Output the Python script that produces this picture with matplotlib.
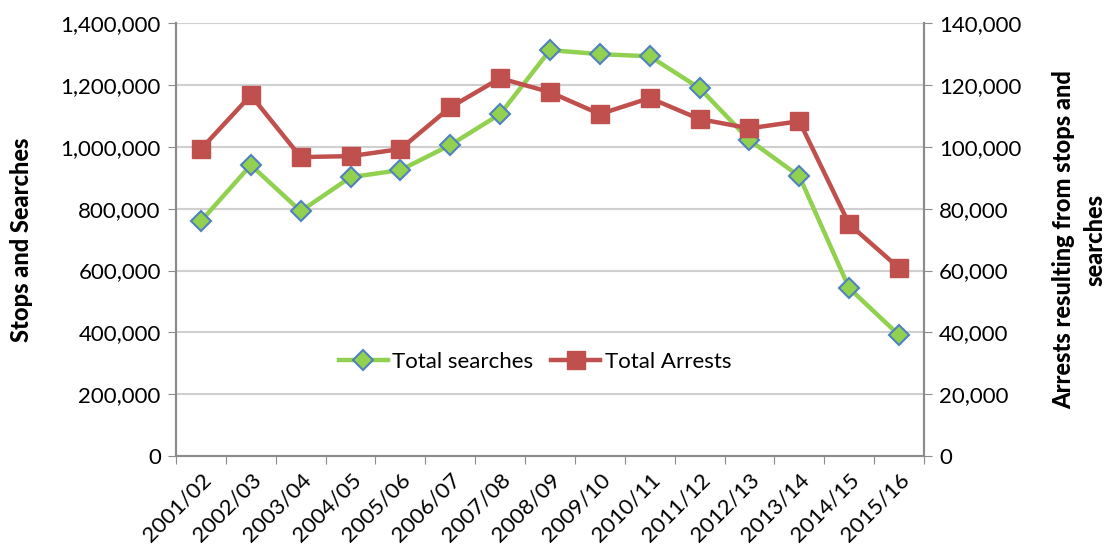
import numpy as np
import matplotlib
matplotlib.use("Agg")
import matplotlib.pyplot as plt
from matplotlib.ticker import FuncFormatter, FixedLocator

years = ["2001/02", "2002/03", "2003/04", "2004/05", "2005/06", "2006/07", "2007/08",
         "2008/09", "2009/10", "2010/11", "2011/12", "2012/13", "2013/14", "2014/15", "2015/16"]
searches = [760000, 941000, 792000, 902000, 925000, 1006000, 1106000,
            1313000, 1300000, 1293000, 1190000, 1022000, 905000, 543000, 391000]
arrests = [99300, 116700, 96700, 97000, 99300, 112800, 122200,
           117700, 110600, 115800, 109000, 106000, 108300, 75000, 60800]

plt.rcParams["font.family"] = ["Lato", "DejaVu Sans"]

GREEN = "#92D050"
BLUE = "#4F81BD"
RED = "#C0504D"
GRID = "#D0D0D0"
AXIS = "#8C8C8C"
FS = 16

fig = plt.figure(figsize=(11.1, 5.53), dpi=100)
ax = fig.add_axes([0.1586, 0.1754, 0.6738, 0.7826])
ax2 = ax.twinx()

x = np.arange(len(years))
l1, = ax.plot(x, searches, color=GREEN, lw=3.2, marker="D", ms=10,
              mfc=GREEN, mec=BLUE, mew=1.5, label="Total searches")
l2, = ax2.plot(x, arrests, color=RED, lw=3.2, marker="s", ms=12.5,
               mfc=RED, mec=RED, label="Total Arrests")

ax.set_xlim(-0.5, len(years) - 0.5)
ax.set_ylim(0, 1400000)
ax2.set_ylim(0, 140000)
ax.set_yticks(np.arange(0, 1400001, 200000))
ax2.set_yticks(np.arange(0, 140001, 20000))
fmt = FuncFormatter(lambda v, p: f"{int(v):,}")
ax.yaxis.set_major_formatter(fmt)
ax2.yaxis.set_major_formatter(fmt)

ax.xaxis.set_major_locator(FixedLocator(np.arange(-0.5, len(years), 1.0)))
ax.xaxis.set_minor_locator(FixedLocator(x))
ax.set_xticklabels([])
ax.set_xticklabels(years, minor=True, rotation=45, ha="right", rotation_mode="anchor")
ax.tick_params(axis="x", which="minor", length=0, pad=10)
ax.tick_params(axis="x", which="major", length=6, color=AXIS)
ax.tick_params(axis="y", length=6, color=AXIS, pad=5)
ax2.tick_params(axis="y", length=6, color=AXIS, pad=5)
for a in (ax, ax2):
    for lab in a.get_xticklabels(minor=True) + a.get_yticklabels():
        lab.set_fontsize(FS)

ax.grid(axis="y", color=GRID, lw=1.5)
ax.set_axisbelow(True)
for a in (ax, ax2):
    a.spines["top"].set_visible(False)
    for s in ("left", "right", "bottom"):
        a.spines[s].set_color(AXIS)
        a.spines[s].set_linewidth(1.5)

ax.set_ylabel("Stops and Searches", fontsize=17, fontweight="black", labelpad=20)
ax2.set_ylabel("Arrests resulting from stops and\nsearches", fontsize=17,
               fontweight="black", labelpad=22, linespacing=1.45)

ax2.legend(handles=[l1, l2], loc="center", bbox_to_anchor=(0.48, 0.217), ncol=2,
           frameon=False, fontsize=FS, handlelength=2.2, columnspacing=0.8,
           handletextpad=0.2)

fig.savefig("out.png", dpi=100)
